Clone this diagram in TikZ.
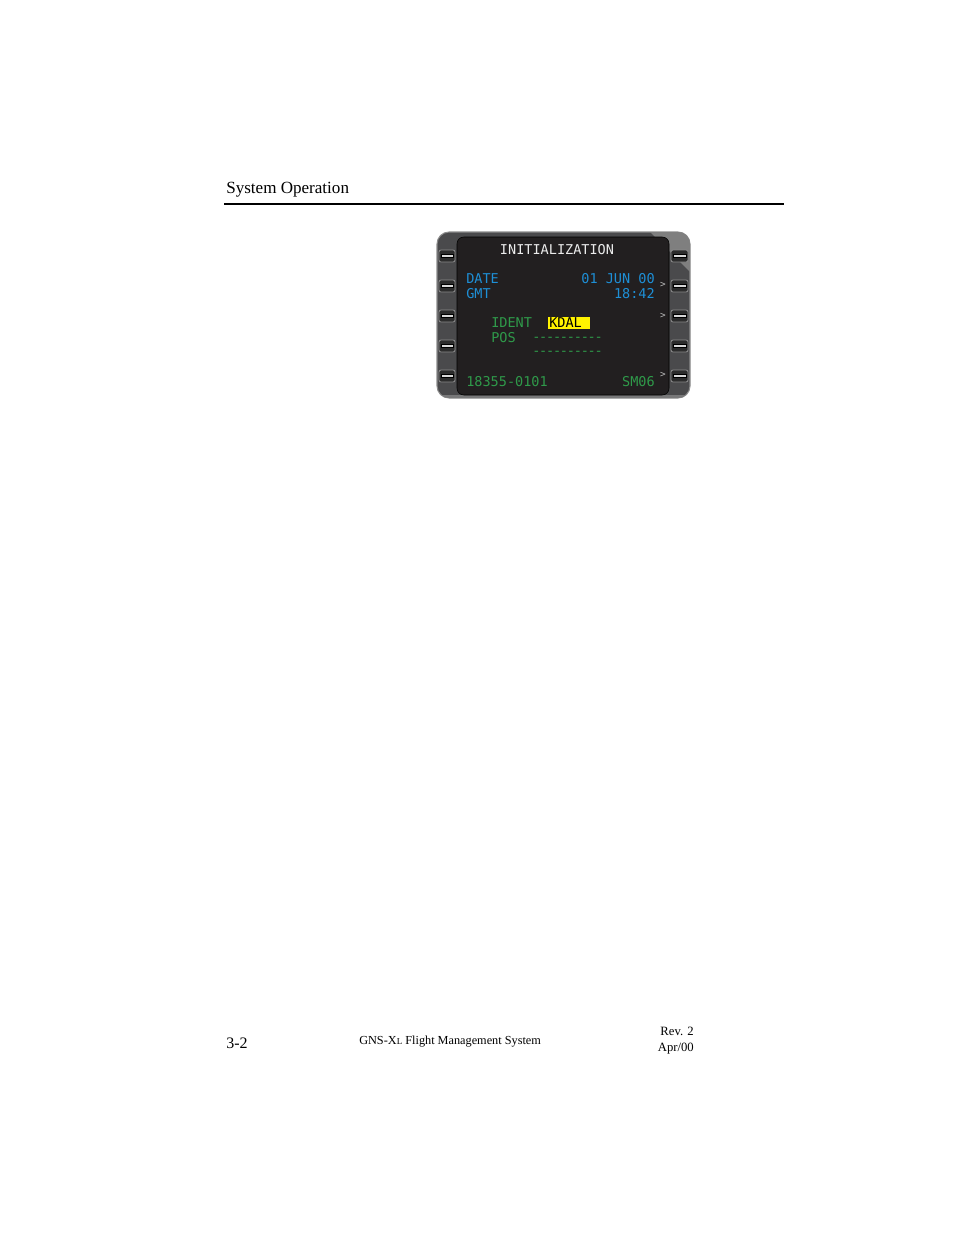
\documentclass[tikz,border=0pt]{standalone}
\usepackage{fontspec}
\setmainfont{Liberation Serif}
\newfontfamily\lcdfont{DejaVu Sans Mono}
\usetikzlibrary{patterns}
\definecolor{bezel}{HTML}{4A4A4C}
\definecolor{bezeledge}{HTML}{8C8C8C}
\definecolor{screen}{HTML}{221F20}
\definecolor{lcdblue}{HTML}{1E8FD6}
\definecolor{lcdgreen}{HTML}{2F9A4A}
\definecolor{lcdwhite}{HTML}{ECECEC}
\definecolor{keyface}{HTML}{2C2C2C}
\definecolor{keybar}{HTML}{D8D8D8}
\tikzset{
  lcd/.style={font=\lcdfont\fontsize{10.15}{12}\selectfont, inner sep=0pt},
  keycap/.style={fill=keyface, draw=bezeledge, line width=0.6pt, rounded corners=1.5pt},
  keybar/.style={fill=keybar, draw=black, line width=0.3pt}
}
\begin{document}
\begin{tikzpicture}[x=0.75pt, y=-0.75pt]
\useasboundingbox[fill=white] (0,0) rectangle (954,1235);
% page header
\node[anchor=base west, inner sep=0pt, font=\fontsize{12.8}{15}\selectfont] (header) at (226,193) {System Operation};
\draw[line width=1.5pt] (224,204) -- (784,204);
% bezel
\draw[fill=bezel, draw=bezeledge, line width=0.8pt, rounded corners=9pt] (437,232) rectangle (690,398);
\begin{scope}
\clip[rounded corners=9pt] (437,232) rectangle (690,398);
\fill[bezeledge!80!bezel] (650,232) -- (690,232) -- (690,272) -- cycle;
\fill[bezeledge!70!bezel] (437,395) rectangle (690,398);
\end{scope}
\draw[fill=screen, draw=black, rounded corners=5pt] (457,237) rectangle (669,395);
% line select keys
\foreach \y in {256,286,316,346,376} {
  \draw[keycap] (439,\y-6) rectangle (455,\y+6);
  \draw[keybar] (441,\y-1.6) rectangle (453,\y+1.6);
  \draw[keycap] (671,\y-6) rectangle (688,\y+6);
  \draw[keybar] (673,\y-1.6) rectangle (686,\y+1.6);
}
% screen text
\node[lcd, text=lcdwhite, anchor=base] (title) at (557,254) {INITIALIZATION};
\node[lcd, text=lcdblue, anchor=base west] (date) at (466,283) {DATE};
\node[lcd, text=lcdblue, anchor=base east] (dateval) at (655,283) {01 JUN 00};
\node[lcd, text=lcdblue, anchor=base west] (gmt) at (466,298) {GMT};
\node[lcd, text=lcdblue, anchor=base east] (gmtval) at (655,298) {18:42};
\fill[yellow] (548,317) rectangle (590,329);
\node[lcd, text=lcdgreen, anchor=base west] (ident) at (491,327) {IDENT};
\node[lcd, text=black, anchor=base west] (kdal) at (549,327) {KDAL};
\node[lcd, text=lcdgreen, anchor=base west] (pos) at (491,342) {POS};
\node[lcd, text=lcdgreen, anchor=base west] (posa) at (532,341) {\addfontfeature{LetterSpace=-9}----------};
\node[lcd, text=lcdgreen, anchor=base west] (posb) at (532,355) {\addfontfeature{LetterSpace=-9}----------};
\node[lcd, text=lcdgreen, anchor=base west] (swver) at (466,386) {18355-0101};
\node[lcd, text=lcdgreen, anchor=base east] (smver) at (655,386) {SM06};
\foreach \y in {285,316,375}
  \node[lcd, text=lcdwhite!80!black, font=\lcdfont\fontsize{7}{8}\selectfont] at (663,\y) {>};
% page footer
\node[anchor=base west, inner sep=0pt, font=\fontsize{12}{14}\selectfont] (pageno) at (226,1048) {3-2};
\node[anchor=base west, inner sep=0pt, font=\fontsize{9.2}{11}\selectfont] (book) at (359,1044) {GNS-X{\fontsize{6.8}{8}\selectfont L} Flight Management System};
\node[anchor=base east, inner sep=0pt, font=\fontsize{9.5}{11}\selectfont] (rev) at (694,1035) {Rev. 2};
\node[anchor=base east, inner sep=0pt, font=\fontsize{9.5}{11}\selectfont] (revdate) at (694,1051) {Apr/00};
\end{tikzpicture}
\end{document}
